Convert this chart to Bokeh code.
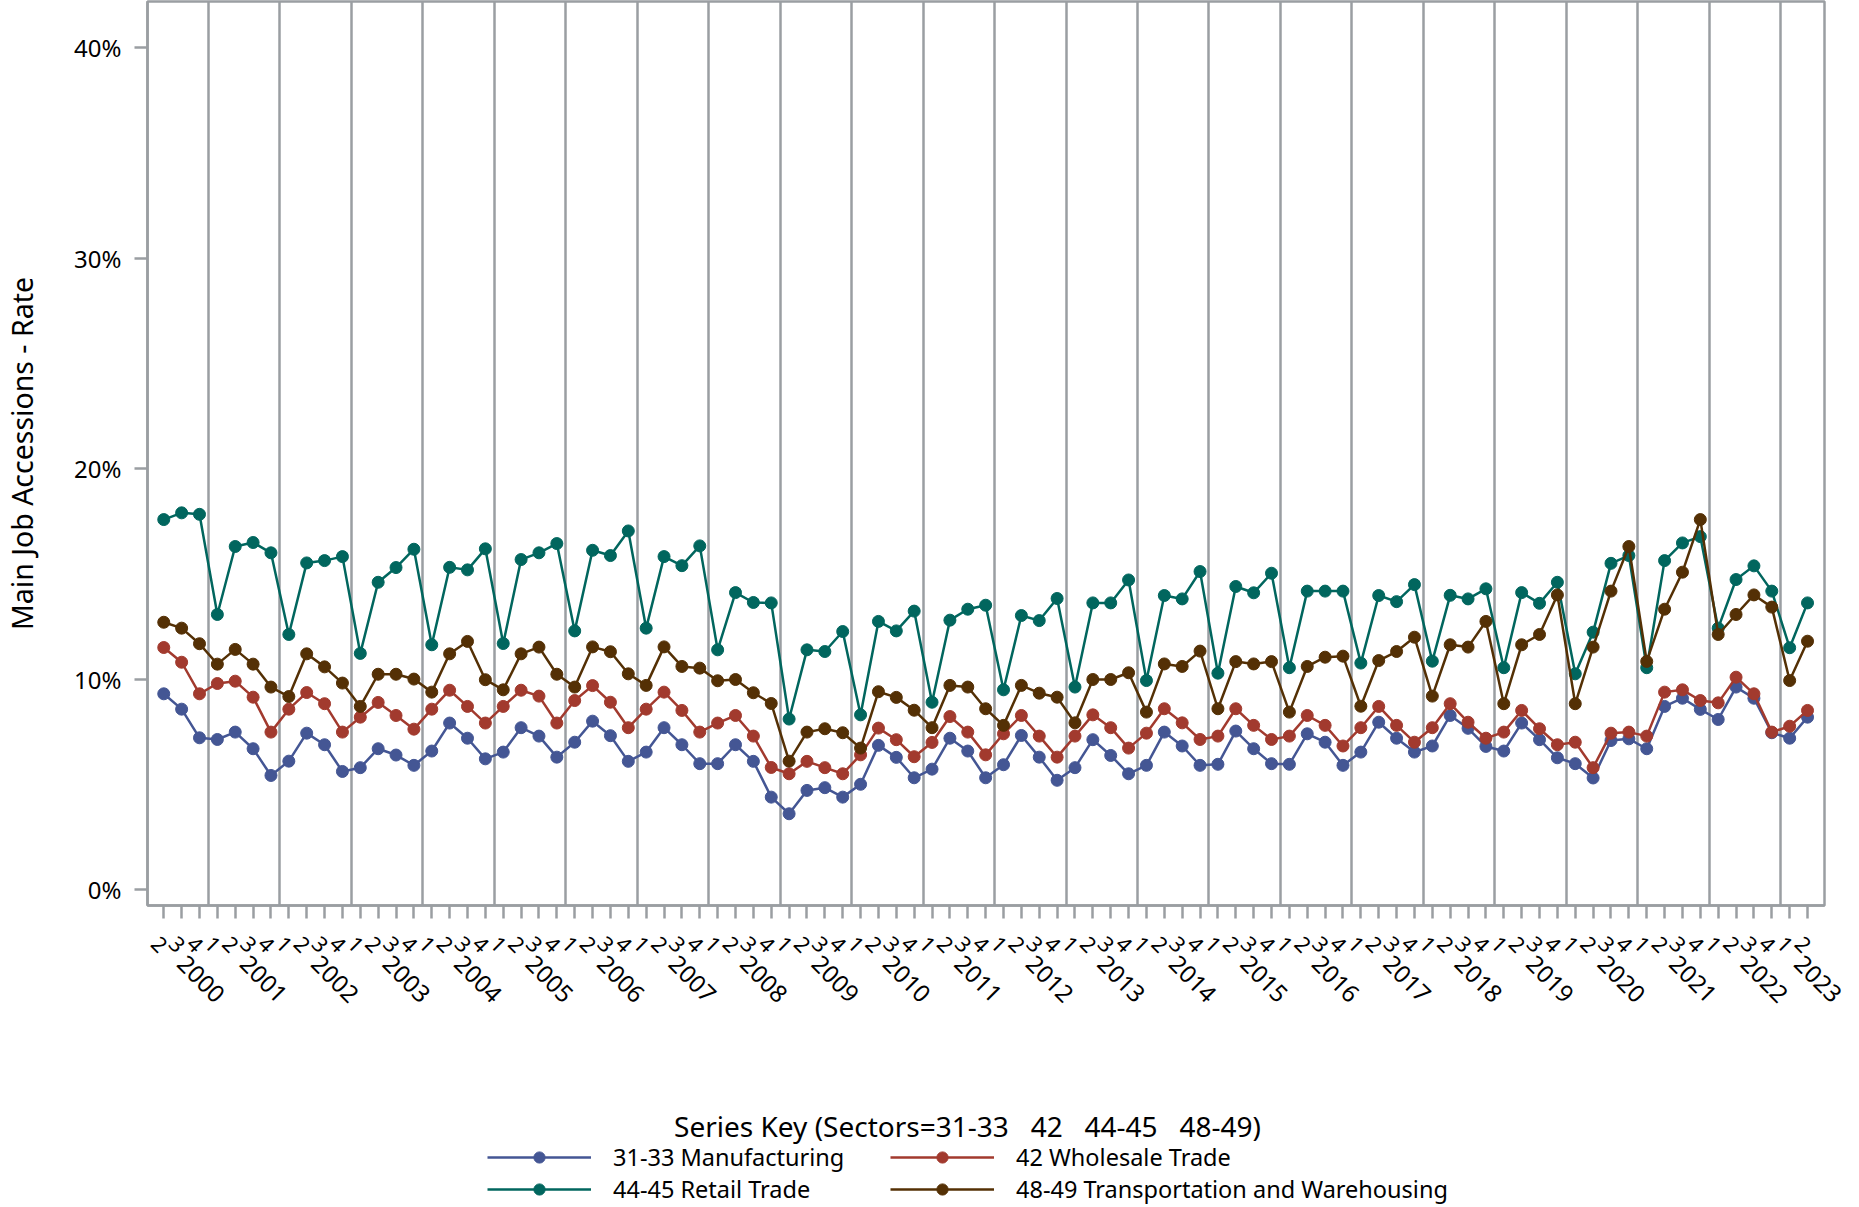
import math
from bokeh.plotting import figure
from bokeh.layouts import column
from bokeh.models import (Range1d, FixedTicker, LinearAxis, Legend, LegendItem, Label,
                          PrintfTickFormatter, ColumnDataSource)
from bokeh.embed import file_html
from bokeh.resources import INLINE

# ---- categories (2000 Q2 .. 2023 Q2) ----
years = [2000] * 3 + [y for y in range(2001, 2023) for _ in range(4)] + [2023] * 2
quarters = [2, 3, 4] + [1, 2, 3, 4] * 22 + [1, 2]

# ---- series values (percent) ----
manufacturing = [
    9.30, 8.57, 7.21, 7.13, 7.48, 6.69, 5.42, 6.10, 7.43, 6.88, 5.61, 5.79, 6.69, 6.39, 5.90,
    6.58, 7.91, 7.19, 6.21, 6.53, 7.69, 7.29, 6.29, 7.00, 8.00, 7.31, 6.09, 6.53, 7.69, 6.88,
    5.98, 5.98, 6.88, 6.09, 4.39, 3.60, 4.71, 4.84, 4.39, 5.00, 6.85, 6.28, 5.31, 5.72, 7.19,
    6.58, 5.31, 5.93, 7.32, 6.29, 5.19, 5.79, 7.12, 6.37, 5.50, 5.90, 7.48, 6.82, 5.90, 5.95,
    7.53, 6.69, 5.98, 5.95, 7.40, 7.00, 5.90, 6.53, 7.95, 7.19, 6.53, 6.82, 8.27, 7.66, 6.80,
    6.58, 7.91, 7.12, 6.26, 5.98, 5.30, 7.08, 7.16, 6.69, 8.70, 9.09, 8.56, 8.08, 9.62, 9.09,
    7.45, 7.19, 8.19]
wholesale = [
    11.50, 10.80, 9.30, 9.79, 9.90, 9.14, 7.48, 8.57, 9.36, 8.83, 7.48, 8.19, 8.89, 8.27, 7.62,
    8.57, 9.47, 8.70, 7.91, 8.70, 9.47, 9.19, 7.91, 8.98, 9.69, 8.90, 7.69, 8.57, 9.38, 8.51,
    7.48, 7.91, 8.27, 7.29, 5.80, 5.50, 6.09, 5.79, 5.50, 6.40, 7.67, 7.12, 6.31, 6.99, 8.22,
    7.48, 6.40, 7.40, 8.27, 7.29, 6.29, 7.29, 8.30, 7.69, 6.72, 7.43, 8.59, 7.92, 7.13, 7.29,
    8.59, 7.80, 7.13, 7.29, 8.27, 7.80, 6.82, 7.69, 8.70, 7.80, 7.00, 7.69, 8.83, 7.95, 7.19,
    7.48, 8.51, 7.64, 6.88, 7.00, 5.79, 7.43, 7.48, 7.29, 9.38, 9.49, 8.98, 8.87, 10.09, 9.30,
    7.48, 7.76, 8.51]
retail = [
    17.58, 17.90, 17.83, 13.07, 16.30, 16.49, 16.00, 12.12, 15.52, 15.63, 15.82, 11.22, 14.60,
    15.30, 16.17, 11.63, 15.31, 15.19, 16.19, 11.69, 15.68, 16.00, 16.44, 12.29, 16.12, 15.87,
    17.04, 12.42, 15.82, 15.39, 16.33, 11.39, 14.11, 13.64, 13.62, 8.10, 11.39, 11.31, 12.26,
    8.30, 12.74, 12.29, 13.23, 8.90, 12.80, 13.32, 13.51, 9.49, 13.02, 12.78, 13.83, 9.62,
    13.62, 13.62, 14.71, 9.93, 13.97, 13.81, 15.11, 10.28, 14.40, 14.10, 15.03, 10.54, 14.18,
    14.18, 14.18, 10.76, 13.97, 13.68, 14.49, 10.85, 13.98, 13.81, 14.29, 10.54, 14.11, 13.60,
    14.60, 10.25, 12.23, 15.50, 15.87, 10.54, 15.63, 16.47, 16.77, 12.42, 14.73, 15.38, 14.18,
    11.49, 13.62]
transportation = [
    12.70, 12.42, 11.68, 10.71, 11.41, 10.71, 9.62, 9.17, 11.20, 10.58, 9.81, 8.70, 10.23,
    10.23, 10.00, 9.38, 11.20, 11.79, 9.97, 9.49, 11.20, 11.52, 10.23, 9.62, 11.53, 11.30,
    10.25, 9.70, 11.53, 10.60, 10.52, 9.92, 9.98, 9.35, 8.84, 6.10, 7.48, 7.64, 7.45, 6.72,
    9.40, 9.13, 8.52, 7.69, 9.70, 9.62, 8.59, 7.80, 9.70, 9.33, 9.14, 7.92, 9.98, 9.98, 10.30,
    8.43, 10.72, 10.60, 11.33, 8.59, 10.83, 10.72, 10.83, 8.43, 10.60, 11.04, 11.09, 8.71,
    10.88, 11.31, 11.99, 9.19, 11.63, 11.52, 12.74, 8.83, 11.63, 12.12, 14.00, 8.83, 11.52,
    14.18, 16.30, 10.84, 13.32, 15.08, 17.58, 12.12, 13.07, 14.00, 13.42, 9.93, 11.80]

series_names = ["31-33 Manufacturing", "42 Wholesale Trade", "44-45 Retail Trade",
                "48-49 Transportation and Warehousing"]
series_colors = ["#445694", "#A23A2E", "#01665E", "#543005"]
series_values = [manufacturing, wholesale, retail, transportation]
y_ticks = [0, 10, 20, 30, 40]
legend_title = "Series Key (Sectors=31-33\u00a0\u00a0\u00a042\u00a0\u00a0\u00a044-45\u00a0\u00a0\u00a048-49)"

idx = list(range(len(quarters)))
year_list = sorted(set(years))
year_centers = [sum(i for i in idx if years[i] == y) / years.count(y) for y in year_list]
year_bounds = [i - 0.5 for i in idx if quarters[i] == 1]

GREY = "#9a9ea2"
FONT = "Noto Sans"
FIG_W = 1856

# ================= main chart =================
p = figure(width=FIG_W, height=1105,
           x_range=Range1d(-0.91, 92.95), y_range=Range1d(-0.76, 42.2),
           output_backend="svg", toolbar_location=None,
           min_border_left=146, min_border_right=32, min_border_top=1, min_border_bottom=200)
p.background_fill_color = "white"
p.border_fill_color = "white"
p.outline_line_color = GREY
p.outline_line_width = 2.5

p.ygrid.visible = False
p.xgrid.ticker = FixedTicker(ticks=year_bounds)
p.xgrid.grid_line_color = GREY
p.xgrid.grid_line_width = 2.5

yax = p.yaxis[0]
yax.ticker = FixedTicker(ticks=y_ticks)
yax.formatter = PrintfTickFormatter(format="%d%%")
yax.axis_label = "Main Job Accessions - Rate"
yax.axis_label_text_font = FONT
yax.axis_label_text_font_size = "28.5px"
yax.axis_label_text_font_style = "normal"
yax.axis_label_text_color = "black"
yax.axis_label_standoff = 30
yax.major_label_text_font = FONT
yax.major_label_text_font_size = "24px"
yax.major_label_text_color = "black"
yax.major_label_standoff = 13
yax.major_tick_out = 13
yax.major_tick_in = 0
yax.minor_tick_line_color = None
yax.axis_line_color = GREY
yax.axis_line_width = 2.5
yax.major_tick_line_color = GREY
yax.major_tick_line_width = 2.5

xax = p.xaxis[0]
xax.ticker = FixedTicker(ticks=idx)
xax.major_label_overrides = {i: str(q) for i, q in zip(idx, quarters)}
xax.major_label_orientation = 7 * math.pi / 4
xax.major_label_text_font = FONT
xax.major_label_text_font_size = "21.5px"
xax.major_label_text_color = "black"
xax.major_label_standoff = 30
xax.major_tick_out = 13
xax.major_tick_in = 0
xax.minor_tick_line_color = None
xax.axis_line_color = GREY
xax.axis_line_width = 2.5
xax.major_tick_line_color = GREY
xax.major_tick_line_width = 2.5

yr_ax = LinearAxis(ticker=FixedTicker(ticks=year_centers),
                   major_label_overrides={c: str(y) for c, y in zip(year_centers, year_list)},
                   major_label_orientation=-math.pi / 4,
                   major_label_text_font=FONT, major_label_text_font_size="24px",
                   major_label_text_color="black", major_label_standoff=5,
                   axis_line_color=None, major_tick_line_color=None,
                   minor_tick_line_color=None, major_tick_out=0, major_tick_in=0)
p.add_layout(yr_ax, "below")

for vals, col in zip(series_values, series_colors):
    src = ColumnDataSource(data=dict(x=idx, y=vals))
    p.line("x", "y", source=src, line_color=col, line_width=2.5)
    p.scatter("x", "y", source=src, size=12, fill_color=col, line_color=col)

# ================= series key (legend strip) =================
# its frame is aligned by the column layout with the main chart's frame (left edge 146px)
k = figure(width=FIG_W, height=102, x_range=Range1d(-10, -9), y_range=Range1d(-10, -9),
           output_backend="svg", toolbar_location=None,
           x_axis_location=None, y_axis_location=None,
           min_border_left=0, min_border_right=0, min_border_top=0, min_border_bottom=0)
k.grid.visible = False
k.outline_line_color = None
k.background_fill_color = "white"
k.border_fill_color = "white"

items = []
for name, vals, col in zip(series_names, series_values, series_colors):
    src = ColumnDataSource(data=dict(x=idx, y=vals))
    rl = k.line("x", "y", source=src, line_color=col, line_width=2.5)
    rs = k.scatter("x", "y", source=src, size=12, fill_color=col, line_color=col)
    items.append(LegendItem(label=name, renderers=[rl, rs]))

legend_style = dict(label_text_font=FONT, label_text_font_size="23.5px",
                    label_text_color="black", glyph_width=104, glyph_height=28,
                    label_height=28, label_standoff=22, spacing=0, padding=0, margin=0,
                    border_line_color=None, background_fill_alpha=0)
k.add_layout(Legend(items=[items[0], items[2]], location=(340, 2), **legend_style), "center")
k.add_layout(Legend(items=[items[1], items[3]], location=(743, 2), **legend_style), "center")
k.add_layout(Label(x=820, y=82, x_units="screen", y_units="screen", text=legend_title,
                   text_align="center", text_baseline="middle", text_font=FONT,
                   text_font_size="28px", text_color="black"))

open("out.html", "w").write(file_html(column(p, k, spacing=0), INLINE))
